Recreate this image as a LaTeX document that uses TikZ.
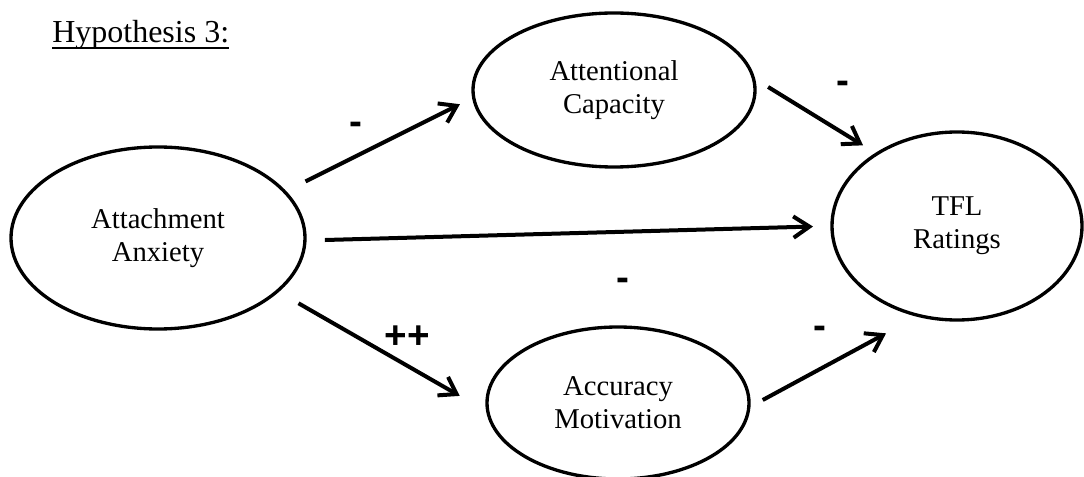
\documentclass[tikz,border=0pt]{standalone}
\usepackage{fontspec}
\setmainfont{Liberation Serif}
\newfontfamily\signfont{Liberation Sans}
\usetikzlibrary{arrows.meta,calc,shapes.geometric}
\tikzset{
	var/.style={draw, ellipse, line width=2.5pt, inner sep=0pt, outer sep=0pt, align=center, font=\fontsize{21.5}{24.75}\selectfont},
	link/.style={line width=3pt, -{Straight Barb[length=12pt,width=16pt]}},
	sign/.style={inner sep=0pt, font=\signfont\bfseries\fontsize{29}{29}\selectfont}
}

\begin{document}
\begin{tikzpicture}[x=0.75pt, y=-0.75pt]
		%%%%% START %%%%%
		\useasboundingbox (0, 0) rectangle (1084, 477);
		
		\node[anchor=base west, inner sep=0pt, font=\fontsize{24}{28}\selectfont] (hyp) at (52, 43) {Hypothesis 3:};
		\draw[line width=1.2pt] ([yshift=-3.7pt]hyp.base west) -- ([yshift=-3.7pt]hyp.base east);
		
		\node[var, minimum width=220.5pt, minimum height=136.5pt] (anx) at (158, 238) {Attachment\\Anxiety};
		\node[var, minimum width=211.5pt, minimum height=115.5pt] (att) at (614, 90) {Attentional\\Capacity};
		\node[var, minimum width=187.5pt, minimum height=141pt] (tfl) at (957, 226) {TFL\\Ratings};
		\node[var, minimum width=196.5pt, minimum height=114pt] (acc) at (618, 403) {Accuracy\\Motivation};
		
		\draw[link, shorten <=17.5pt, shorten >=11.5pt] (anx.20.3) -- (att.183.4);
		\draw[link, shorten <=13.1pt, shorten >=12.2pt] (att.5.05) -- (tfl.138.7);
		\draw[link, shorten <=15pt, shorten >=14.25pt] (anx.359.4) -- (tfl.180.7);
		\draw[link, shorten <=18.3pt, shorten >=24.4pt] (anx.336.9) -- (acc.184.2);
		\draw[link, shorten <=11.9pt, shorten >=28.1pt] (acc.358.9) -- (tfl.247);
		
		\node[sign] (minusA) at (356, 128) {-};
		\node[sign] (minusB) at (843, 87) {-};
		\node[sign] (minusC) at (623, 284) {-};
		\node[sign] (plusD) at (407, 337) {++};
		\node[sign] (minusE) at (820, 332) {-};
		
		%%%%% END %%%%%
	\end{tikzpicture}
\end{document}
